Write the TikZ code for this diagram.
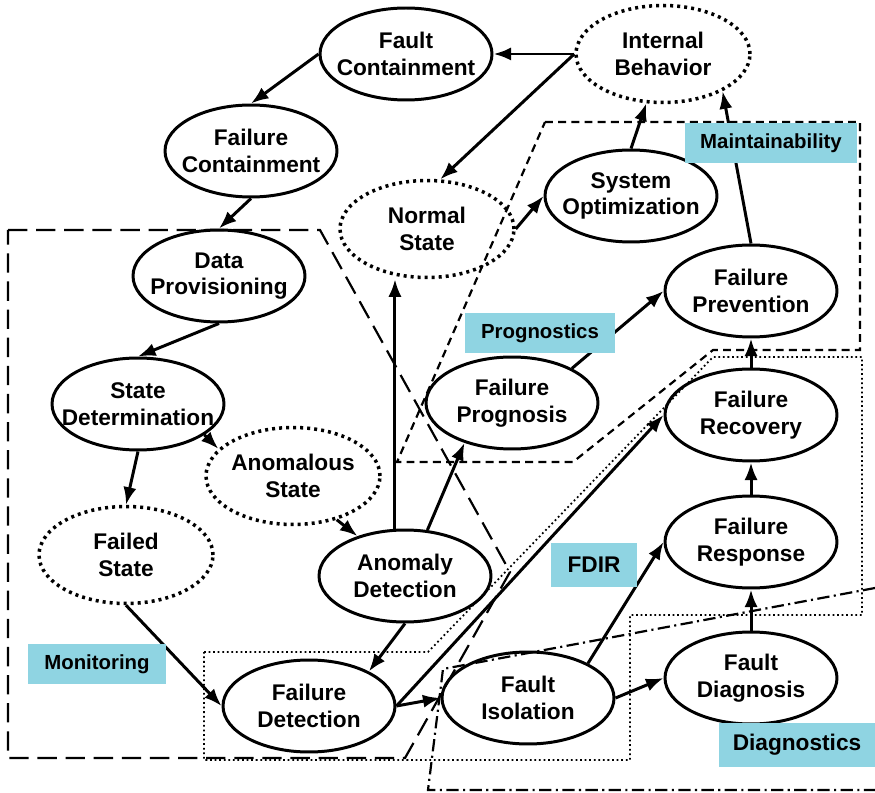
\documentclass[tikz,border=0pt]{standalone}
\usepackage{fontspec}
\setmainfont{Liberation Sans}
\usetikzlibrary{shapes.geometric,arrows.meta}
\definecolor{tagblue}{RGB}{143,212,226}
\begin{document}
\begin{tikzpicture}
[x=0.02cm, y=-0.02cm, >={Latex[length=10pt,width=7.5pt]}, line width=1.7pt,
 state/.style={ellipse, draw, minimum width=3.44cm, minimum height=1.84cm, inner sep=0pt,
   label={[align=center, font=\fontsize{12.9}{15.2}\selectfont\bfseries]center:#1}},
 dstate/.style={state=#1, minimum width=3.48cm, minimum height=1.94cm, line width=2pt, dash pattern=on 1.7pt off 2.3pt},
 tag/.style={fill=tagblue, inner sep=0pt, font=\fontsize{11.6}{13}\selectfont\bfseries},
 bigtag/.style={tag, font=\fontsize{12.9}{14}\selectfont\bfseries},
 region/.style={line width=1.25pt}]
\useasboundingbox (0,0) rectangle (875,793);
% regions
\draw[region, dash pattern=on 11pt off 5pt] (8,230) -- (320,230) -- (510,572) -- (405,758) -- (8,758) -- cycle;
\draw[region, dash pattern=on 4.5pt off 3pt] (545,122) -- (860,122) -- (860,350) -- (713,350) -- (573,462) -- (397,462) -- cycle;
\draw[region, line width=1pt, dash pattern=on 1pt off 1.6pt] (204,652) -- (428,652) -- (713,357) -- (862,357) -- (862,615) -- (630,615) -- (630,760) -- (204,760) -- cycle;
\draw[region, dash pattern=on 7pt off 2.5pt on 1.2pt off 2.5pt] (875,588) -- (443,669) -- (428,790) -- (875,790);
% states
\node[state={Fault\\Containment}] (FC) at (406,54) {};
\node[dstate={Internal\\Behavior}] (IB) at (663,54) {};
\node[state={Failure\\Containment}] (FCn) at (251,151) {};
\node[dstate={Normal\\State}] (NS) at (427,229) {};
\node[state={System\\Optimization}] (SO) at (631,196) {};
\node[state={Data\\Provisioning}] (DP) at (219,276) {};
\node[state={Failure\\Prevention}] (FP) at (751,291) {};
\node[state={State\\Determination}] (SD) at (138,404) {};
\node[state={Failure\\Prognosis}] (FPg) at (512,403) {};
\node[state={Failure\\Recovery}] (FR) at (751,415) {};
\node[dstate={Anomalous\\State}] (AS) at (293,476) {};
\node[dstate={Failed\\State}] (FS) at (126,555) {};
\node[state={Anomaly\\Detection}] (AD) at (405,576) {};
\node[state={Failure\\Response}] (FRs) at (751,542) {};
\node[state={Failure\\Detection}] (FDt) at (309,706) {};
\node[state={Fault\\Isolation}] (FI) at (528,698) {};
\node[state={Fault\\Diagnosis}] (FDg) at (751,678) {};
% transitions
\draw[->] (IB.west) -- (FC.east);
\draw[->] (IB.west) -- (NS.75);
\draw[->] (FC.west) -- (FCn.north);
\draw[->] (FCn.south) -- (DP.north);
\draw[->] (DP.south) -- (SD.north);
\draw[->] (SD.-25) -- (AS.160);
\draw[->] (SD.south) -- (FS.north);
\draw[->] (AS.-45) -- (AD.140);
\draw[->] (FS.south) -- (FDt.west);
\draw[->] (AD.south) -- (FDt.30);
\draw[->] (AD.102) -- (AD.102 |- NS.south);
\draw[->] (AD.64) -- (FPg.-140);
\draw[->] (NS.east) -- (SO.west);
\draw[->] (SO.north) -- (IB);
\draw[->] (FP.north) -- (IB.-32);
\draw[->] (FPg.30) -- (FP.west);
\draw[->] (FR.north) -- (FP.south);
\draw[->] (FRs.north) -- (FR.south);
\draw[->] (FDg.north) -- (FRs.south);
\draw[->] (FDt.east) -- (FR.west);
\draw[->] (FDt.east) -- (FI.west);
\draw[->] (FI.30) -- (FRs.west);
\draw[->] (FI.east) -- (FDg.west);
% tags
\node[tag, minimum width=3.46cm, minimum height=0.8cm] (maint) at (771,143) {Maintainability};
\node[tag, minimum width=3cm, minimum height=0.8cm] (progn) at (540,333) {Prognostics};
\node[bigtag, minimum width=1.72cm, minimum height=0.88cm] (fdir) at (594,565) {FDIR};
\node[tag, minimum width=2.76cm, minimum height=0.8cm] (monit) at (97,664) {Monitoring};
\node[bigtag, minimum width=3.14cm, minimum height=0.88cm] (diagn) at (797,745) {Diagnostics};
\end{tikzpicture}
\end{document}
